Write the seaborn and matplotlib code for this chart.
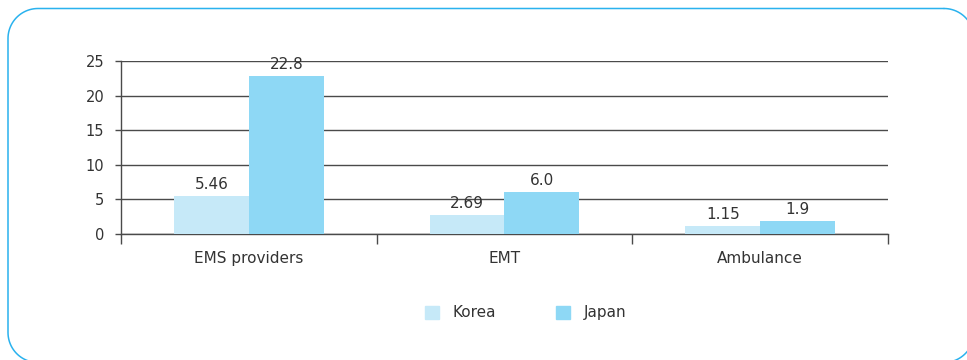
import matplotlib
matplotlib.use("Agg")
import matplotlib.pyplot as plt
import numpy as np
import seaborn as sns
import pandas as pd

categories = ["EMS providers", "EMT", "Ambulance"]
korea = [5.46, 2.69, 1.15]
japan = [22.8, 6.0, 1.9]
korea_labels = ["5.46", "2.69", "1.15"]
japan_labels = ["22.8", "6.0", "1.9"]
series = ["Korea", "Japan"]
yticks = [0, 5, 10, 15, 20, 25]

sns.set_style("white")
plt.rcParams["font.family"] = ["DejaVu Sans"]

df = pd.DataFrame({
    "category": categories * 2,
    "country": [series[0]] * 3 + [series[1]] * 3,
    "value": korea + japan,
})

W, H = 967, 360
fig = plt.figure(figsize=(W / 100, H / 100), dpi=100)


def rounded_rect(x0, y0, x1, y1, r, n=24):
    """Outline of a rounded rectangle in pixel units (y grows downward)."""
    pts = []
    corners = [(x1 - r, y0 + r, -90, 0), (x1 - r, y1 - r, 0, 90),
               (x0 + r, y1 - r, 90, 180), (x0 + r, y0 + r, 180, 270)]
    for cx, cy, a0, a1 in corners:
        t = np.radians(np.linspace(a0, a1, n))
        pts.extend(zip(cx + r * np.cos(t), cy + r * np.sin(t)))
    pts.append(pts[0])
    return np.array(pts)


# Full-figure overlay in pixel units for the rounded panel frame
frame_ax = fig.add_axes([0, 0, 1, 1])
frame_ax.set_xlim(0, W)
frame_ax.set_ylim(H, 0)
frame_ax.axis("off")
outline = rounded_rect(8, 8.5, 974, 362.5, 30)
frame_ax.plot(outline[:, 0], outline[:, 1], color="#2ab2ee", linewidth=1.1,
              clip_on=False)

ax = fig.add_axes([0.1251, 0.35, 0.9183 - 0.1251, 0.8306 - 0.35])

palette = {"Korea": "#c6e9f8", "Japan": "#8ed8f5"}
sns.barplot(data=df, x="category", y="value", hue="country", palette=palette,
            width=0.586, ax=ax, legend=False, saturation=1, linewidth=0,
            zorder=3)

text_color = "#333333"
line_color = "#4a4a4a"

for container, labels in zip(ax.containers, [korea_labels, japan_labels]):
    ax.bar_label(container, labels=labels, padding=3, fontsize=11, color=text_color)

ax.set_ylim(0, 25)
ax.set_xlim(-0.5, 2.5)
ax.set_yticks(yticks)
ax.set_yticklabels([str(t) for t in yticks])
ax.yaxis.grid(True, color=line_color, linewidth=1.0, zorder=0)
ax.set_axisbelow(True)
ax.set_xlabel("")
ax.set_ylabel("")
ax.patch.set_alpha(0)

for s in ["top", "right"]:
    ax.spines[s].set_visible(False)
for s in ["left", "bottom"]:
    ax.spines[s].set_color(line_color)
    ax.spines[s].set_linewidth(1.0)

ax.tick_params(axis="y", length=4, width=1.0, color=line_color, labelsize=10.5,
               labelcolor=text_color, pad=8, left=True)
ax.tick_params(axis="x", which="major", length=0, labelsize=11,
               labelcolor=text_color, pad=12)
ax.set_xticks([-0.5, 0.5, 1.5, 2.5], minor=True)
ax.tick_params(axis="x", which="minor", length=7, width=1.0, color=line_color,
               direction="out", bottom=True)

handles = [plt.Rectangle((0, 0), 1, 1, color=palette[s]) for s in series]
fig.legend(handles, series, loc="center", bbox_to_anchor=(0.5434, 0.131), ncol=2,
           frameon=False, fontsize=11, handlelength=0.92, handleheight=0.92,
           handletextpad=0.9, columnspacing=3.9, labelcolor=text_color)

fig.savefig("out.png", dpi=100)
